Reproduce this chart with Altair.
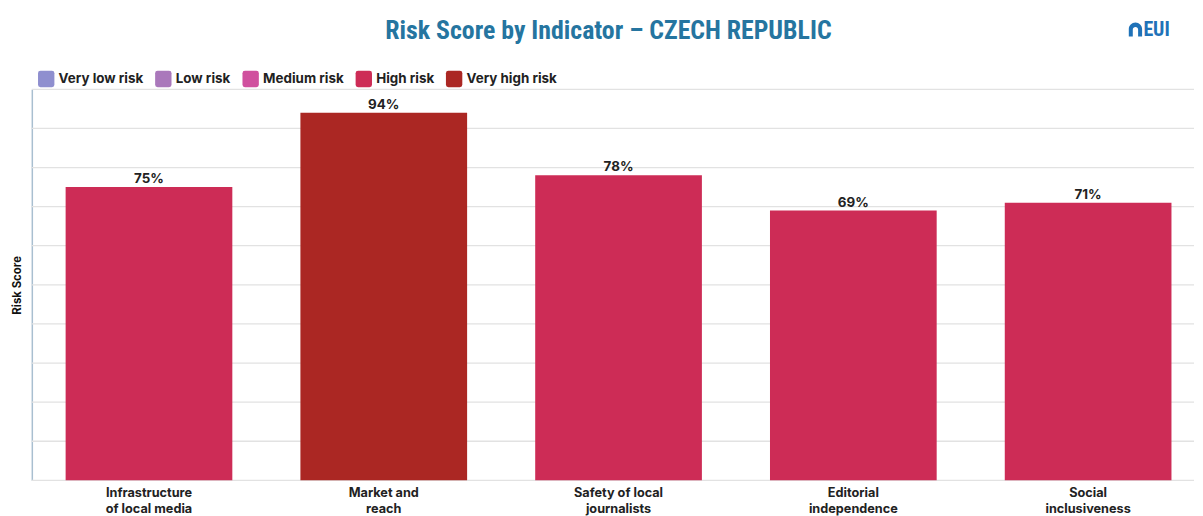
import altair as alt
import pandas as pd

indicators = [
    "Infrastructure\nof local media",
    "Market and\nreach",
    "Safety of local\njournalists",
    "Editorial\nindependence",
    "Social\ninclusiveness",
]
scores = [75, 94, 78, 69, 71]
risk_levels = ["High risk", "Very high risk", "High risk", "High risk", "High risk"]
legend_levels = ["Very low risk", "Low risk", "Medium risk", "High risk", "Very high risk"]
legend_colors = ["#8f8fcf", "#aa78bb", "#d0509e", "#cd2c56", "#ab2723"]
y_ticks = list(range(0, 101, 10))
title_text = ["Risk Score by Indicator – CZECH REPUBLIC"]
logo_text = ["EUI"]

df = pd.DataFrame({"indicator": indicators, "score": scores, "risk": risk_levels})
grid_df = pd.DataFrame({"score": y_ticks})

FONT = "Inter"
COND = "'Roboto Condensed', 'DejaVu Sans Condensed', 'Liberation Sans Narrow', sans-serif"
ROUNDED = ("M -0.7 -1 L 0.7 -1 Q 1 -1 1 -0.7 L 1 0.7 Q 1 1 0.7 1 "
           "L -0.7 1 Q -1 1 -1 0.7 L -1 -0.7 Q -1 -1 -0.7 -1 Z")
ARCH = ("M -1 1 L -1 -0.1 A 1 1 0 0 1 1 -0.1 L 1 1 L 0.4 1 L 0.4 0 "
        "A 0.4 0.4 0 0 0 -0.4 0 L -0.4 1 Z")

x_enc = alt.X(
    "indicator:N",
    sort=indicators,
    title=None,
    scale=alt.Scale(paddingInner=0.29, paddingOuter=0.12, align=0.6),
    axis=alt.Axis(
        labelAngle=0, domain=False, ticks=False, labelPadding=6,
        labelFont=FONT, labelFontSize=12.8, labelFontWeight="bold",
        labelColor="#222222", labelLineHeight=16, labelLimit=0,
        labelExpr="split(datum.label, '\\n')", grid=False,
    ),
)
y_axis = alt.Axis(
    values=y_ticks, labels=False, ticks=False, domain=True,
    domainColor="#a9bfd0", domainWidth=1.5, grid=False,
    titleFont=FONT, titleFontSize=11.5, titleFontWeight="bold",
    titleColor="#111111", titlePadding=9,
)
y_scale = alt.Scale(domain=[0, 100], nice=False)
y_enc = alt.Y("score:Q", title="Risk Score", scale=y_scale, axis=y_axis)

color_enc = alt.Color(
    "risk:N",
    scale=alt.Scale(domain=legend_levels, range=legend_colors),
    legend=alt.Legend(
        title=None, orient="none", legendX=6, legendY=-19, direction="horizontal",
        symbolType=ROUNDED, symbolSize=272, symbolStrokeWidth=0, symbolOpacity=1,
        labelFont=FONT, labelFontSize=13.5, labelFontWeight="bold",
        labelColor="#222222", columnPadding=11, labelOffset=4,
    ),
)

grid = alt.Chart(grid_df).mark_rule(color="#e2e2e2", strokeWidth=1.3).encode(
    y=alt.Y("score:Q", title="Risk Score", scale=y_scale, axis=y_axis)
)

base = alt.Chart(df).encode(x=x_enc, y=y_enc)
bars = base.mark_bar(opacity=1).encode(color=color_enc)
labels = base.transform_calculate(label="datum.score + '%'").mark_text(
    font=FONT, fontSize=13.5, fontWeight="bold", color="#222222",
    baseline="bottom", dy=-1,
).encode(text="label:N")

title_df = pd.DataFrame({"t": title_text})
title = alt.Chart(title_df).mark_text(
    font=COND, fontWeight="bold", fontSize=26, color="#2575a0",
    align="center", baseline="alphabetic",
).encode(x=alt.value(581), y=alt.value(-51), text="t:N")

logo_df = pd.DataFrame({"t": logo_text})
logo_arch = alt.Chart(logo_df).mark_point(
    shape=ARCH, filled=True, color="#1f72b8", opacity=1, size=180,
).encode(x=alt.value(1112), y=alt.value(-60))
logo = alt.Chart(logo_df).mark_text(
    font=COND, fontWeight="bold", fontSize=20, color="#1f72b8",
    align="left", baseline="middle",
).encode(x=alt.value(1120), y=alt.value(-60), text="t:N")

chart = alt.layer(grid, bars, labels, title, logo_arch, logo).properties(
    width=1171,
    height=394,
    padding={"left": 4, "top": 8, "right": 0, "bottom": 0},
).configure_view(stroke=None)

chart.save("out.html", embed_options={"renderer": "svg", "actions": False})
